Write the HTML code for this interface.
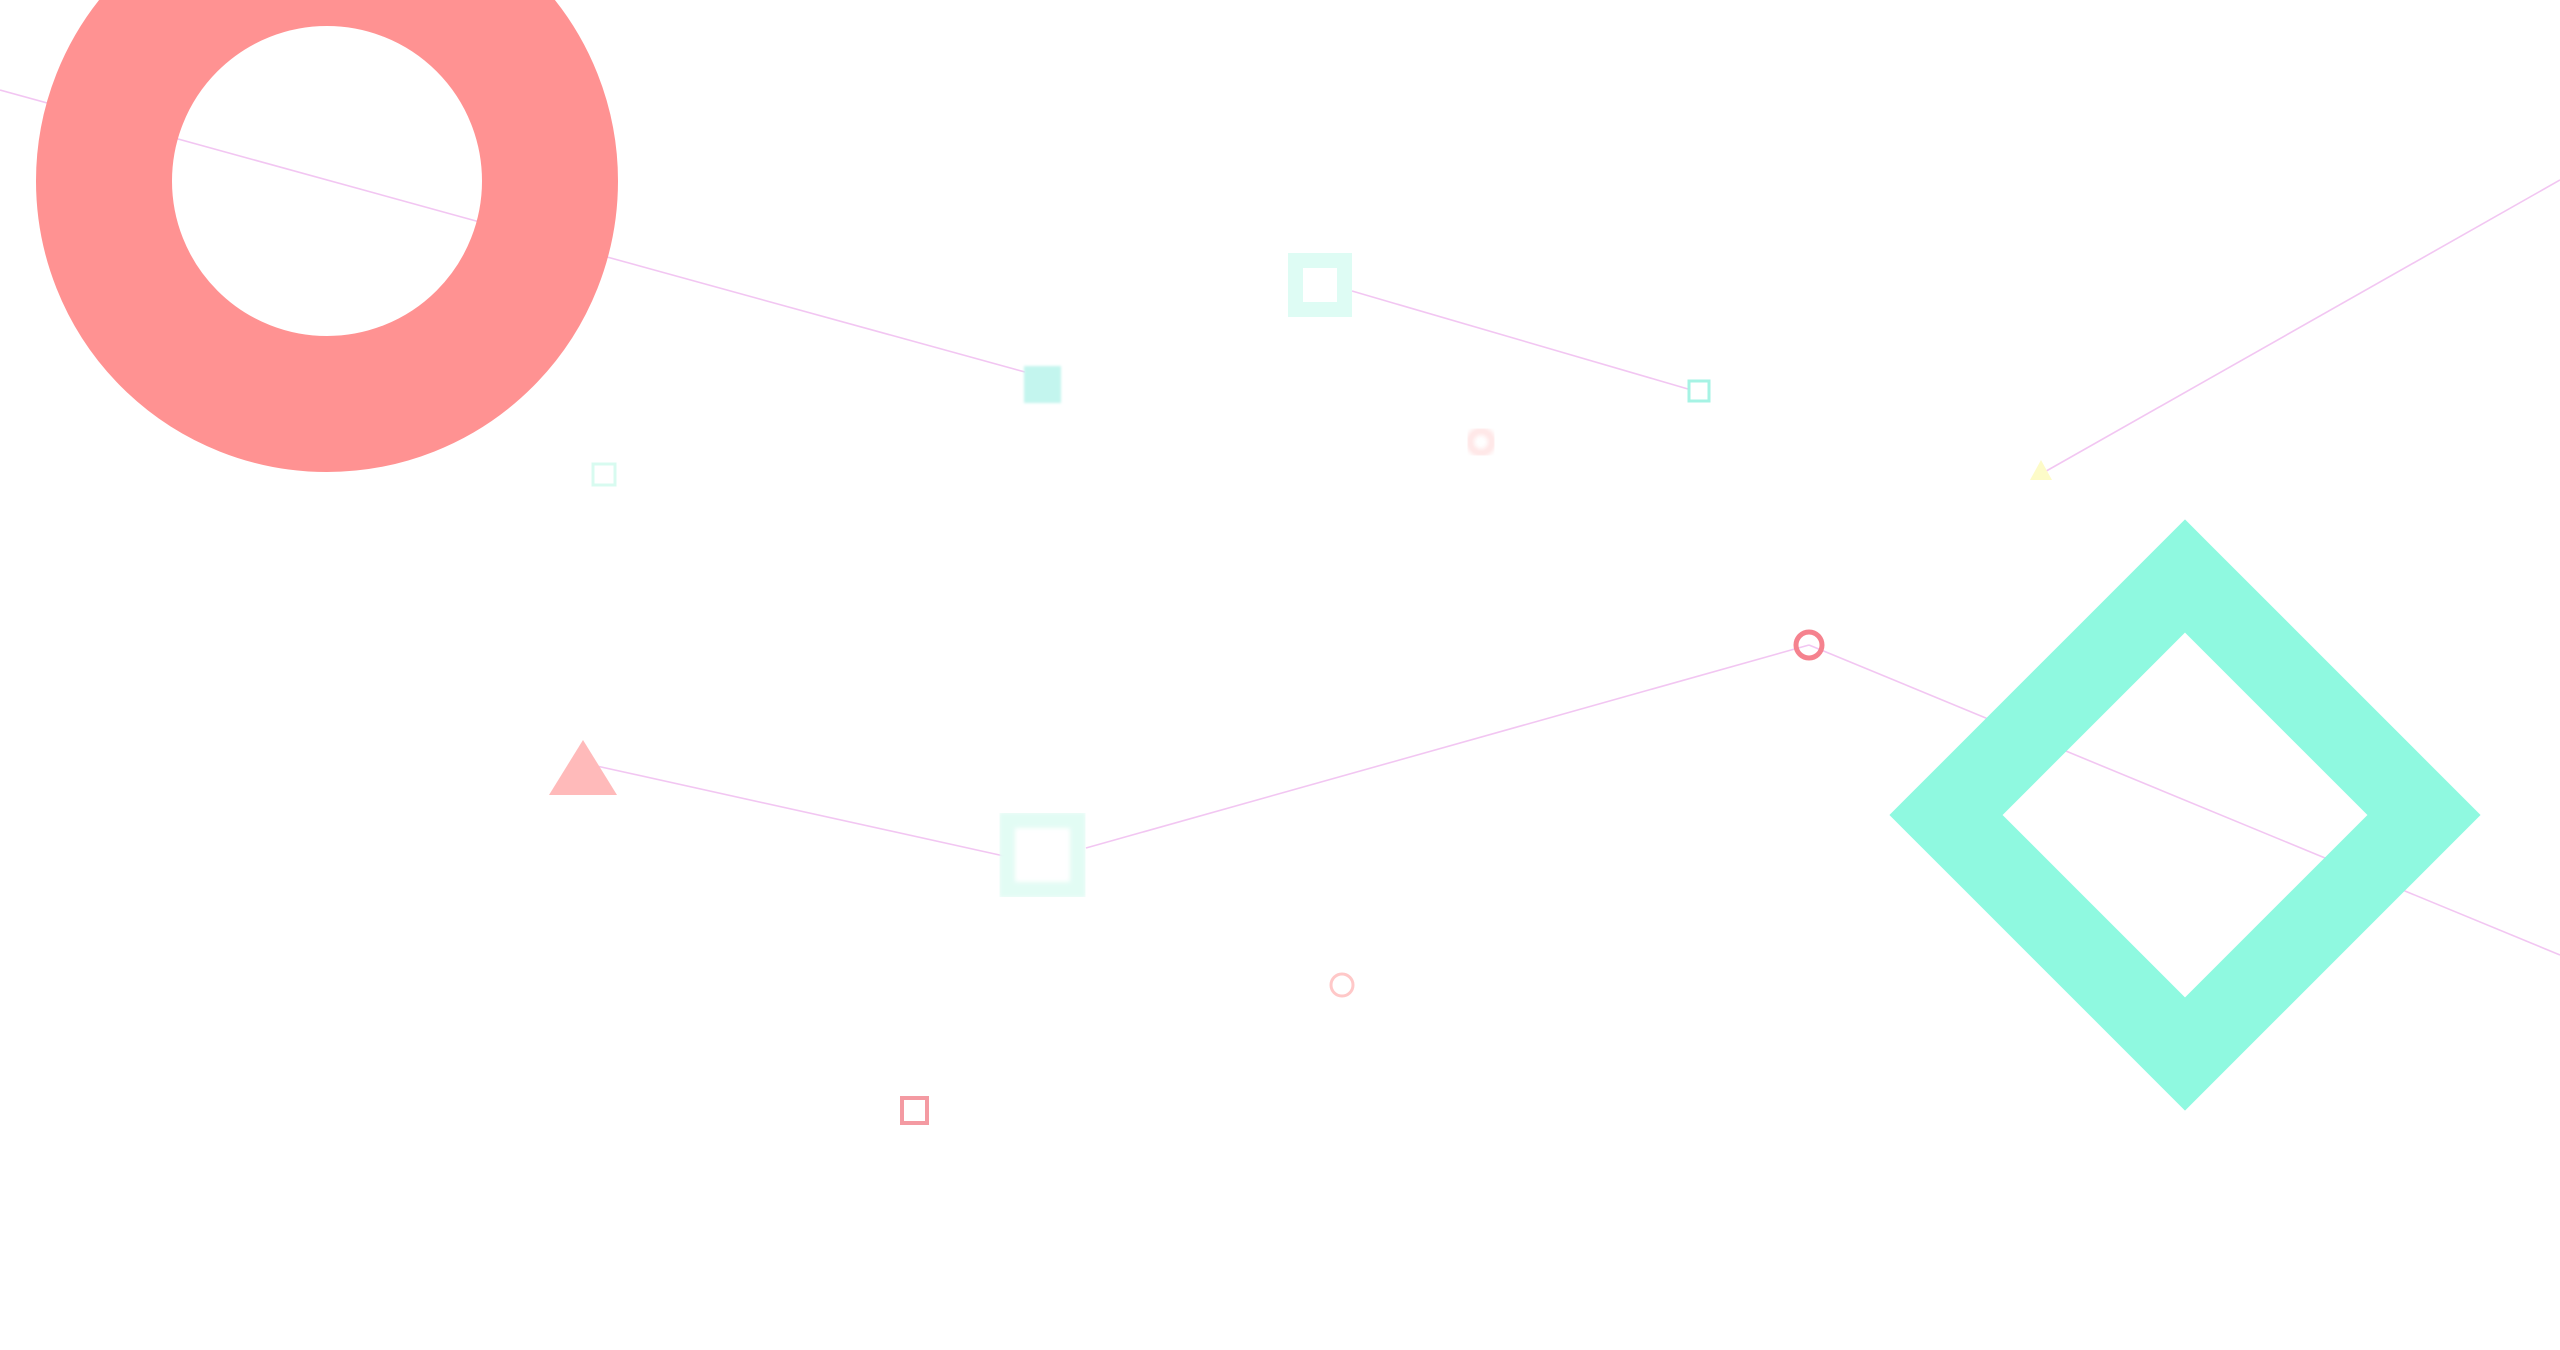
<!DOCTYPE html>
<html><head><style>html,body{margin:0;padding:0;background:#fff;overflow:hidden}</style></head>
<body>
<svg width="2560" height="1345" viewBox="0 0 2560 1345" xmlns="http://www.w3.org/2000/svg">
<defs>
<filter id="b"><feGaussianBlur stdDeviation="2"/></filter>
<filter id="b2"><feGaussianBlur stdDeviation="1.2"/></filter>
</defs>
<g stroke="#f2c6f2" stroke-width="1.6" fill="none">
<line x1="0" y1="90" x2="1025" y2="372"/>
<line x1="1352" y1="291" x2="1688" y2="389"/>
<line x1="2041" y1="474" x2="2560" y2="180"/>
<line x1="1809" y1="645" x2="2560" y2="955"/>
<line x1="1086" y1="848" x2="1809" y2="645"/>
<line x1="583" y1="763" x2="1004" y2="856"/>
</g>
<circle cx="327" cy="181" r="223" fill="none" stroke="#ff9292" stroke-width="136"/>
<rect x="1024" y="366" width="37" height="37" fill="#c3f5ee" filter="url(#b2)"/>
<rect x="1295.5" y="260.5" width="49" height="49" fill="none" stroke="#defcf4" stroke-width="15"/>
<rect x="1689" y="381" width="20" height="20" fill="none" stroke="#a6f3e4" stroke-width="3"/>
<polygon points="2041,460 2030,480 2052,480" fill="#fdfbc8"/>
<circle cx="1481" cy="442" r="11" fill="none" stroke="#ffe6e6" stroke-width="8" filter="url(#b)"/>
<rect x="593" y="464" width="22" height="21" fill="none" stroke="#d8fbf0" stroke-width="3"/>
<polygon points="2185,576 2424,815 2185,1054 1946,815" fill="none" stroke="#8ff9e0" stroke-width="80"/>
<circle cx="1809" cy="645" r="13" fill="none" stroke="#f5828e" stroke-width="5"/>
<polygon points="583,740 549,795 617,795" fill="#ffbaba"/>
<rect x="1007" y="820" width="71" height="70" fill="none" stroke="#e2fcf4" stroke-width="16" filter="url(#b)"/>
<circle cx="1342" cy="985" r="11" fill="none" stroke="#ffc8c8" stroke-width="3"/>
<rect x="902" y="1098" width="25" height="25" fill="none" stroke="#f49aa2" stroke-width="4"/>
</svg>
</body></html>
